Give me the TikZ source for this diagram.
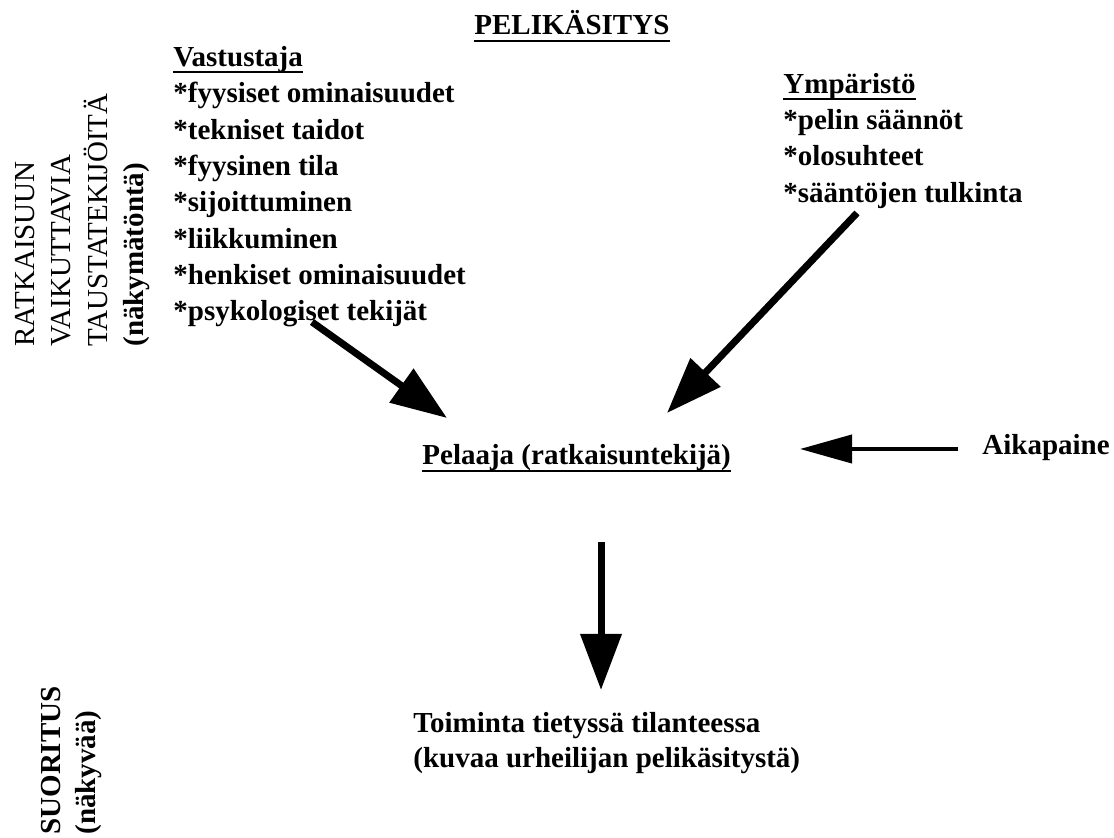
\documentclass[tikz,border=0pt]{standalone}
\usepackage{fontspec}
\setmainfont{Liberation Serif}
\usetikzlibrary{arrows.meta}
\begin{document}
\begin{tikzpicture}[x=0.5pt,y=-0.5pt,
  txt/.style={inner sep=0pt, anchor=base west, font=\fontsize{14.5}{18}\selectfont\bfseries},
  reg/.style={txt, font=\fontsize{14.5}{18}\selectfont},
  uline/.style={line width=1.2pt},
  bigarrow/.style={line width=3.5pt, -{Triangle[length=28pt,width=20pt]}},
  thinarrow/.style={line width=2pt, -{Triangle[length=26pt,width=14pt]}}]
\useasboundingbox[fill=white] (0,0) rectangle (1114,838);

% heading
\node[txt] (title) at (474,35) {PELIKÄSITYS};
\draw[uline] ([yshift=-3pt]title.base west) -- ([yshift=-3pt]title.base east);

% opponent factors
\node[txt] (opp) at (173,66.7) {Vastustaja};
\draw[uline] ([yshift=-2.6pt]opp.base west) -- ([yshift=-2.6pt]opp.base east);
\node[txt] (o1) at (173,103.0) {*fyysiset ominaisuudet};
\node[txt] (o2) at (173,139.3) {*tekniset taidot};
\node[txt] (o3) at (173,175.6) {*fyysinen tila};
\node[txt] (o4) at (173,211.9) {*sijoittuminen};
\node[txt] (o5) at (173,248.2) {*liikkuminen};
\node[txt] (o6) at (173,284.5) {*henkiset ominaisuudet};
\node[txt] (o7) at (173,320.8) {*psykologiset tekijät};

% environment factors
\node[txt] (env) at (783,93.3) {Ympäristö};
\draw[uline] ([yshift=-3pt]env.base west) -- ([yshift=-3pt]env.base east);
\node[txt] (e1) at (783,129.6) {*pelin säännöt};
\node[txt] (e2) at (783,165.9) {*olosuhteet};
\node[txt] (e3) at (783,202.2) {*sääntöjen tulkinta};

% player, time pressure, outcome
\node[txt] (player) at (422,465) {Pelaaja (ratkaisuntekijä)};
\draw[uline] ([yshift=-3pt]player.base west) -- ([yshift=-3pt]player.base east);
\node[txt] (time) at (982,455) {Aikapaine};
\node[txt] (act1) at (413,733) {Toiminta tietyssä tilanteessa};
\node[txt] (act2) at (413,768) {(kuvaa urheilijan pelikäsitystä)};

% vertical side labels
\node[reg,rotate=90] (r1) at (34,347) {RATKAISUUN};
\node[reg,rotate=90] (r2) at (70.5,347) {VAIKUTTAVIA};
\node[reg,rotate=90] (r3) at (107,347) {TAUSTATEKIJÖITÄ};
\node[txt,rotate=90] (r4) at (143,347) {(näkymätöntä)};
\node[txt,rotate=90] (s1) at (60,835) {SUORITUS};
\node[txt,rotate=90] (s2) at (95,835) {(näkyvää)};

% arrow end points
\coordinate (oppTail) at (312,322);
\coordinate (oppTip) at (447,418);
\coordinate (envTail) at (857,213);
\coordinate (envTip) at (667,413);
\coordinate (timeTail) at (958,449);
\coordinate (timeTip) at (800,449);
\coordinate (actTail) at (601,542);
\coordinate (actTip) at (601,690);

\draw[bigarrow] (oppTail) -- (oppTip);
\draw[bigarrow] (envTail) -- (envTip);
\draw[thinarrow] (timeTail) -- (timeTip);
\draw[bigarrow] (actTail) -- (actTip);
\end{tikzpicture}
\end{document}
